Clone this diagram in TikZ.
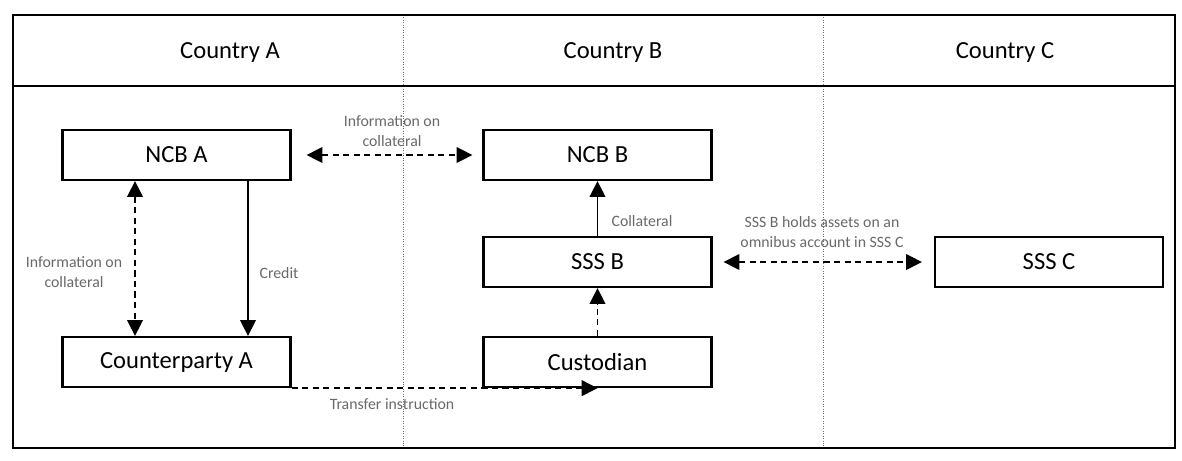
\documentclass[tikz,border=0pt]{standalone}
\usepackage{fontspec}
\setmainfont{Carlito}
\usetikzlibrary{arrows.meta}
\definecolor{label1}{RGB}{105, 105, 105}
\definecolor{divider1}{RGB}{110, 110, 110}
\tikzset{
  box/.style={draw, line width=1.3pt, minimum width=4.56cm, minimum height=1cm, font=\fontsize{14}{16}\selectfont},
  lbl/.style={text=label1, font=\fontsize{9}{11.4}\selectfont, align=center},
  flow/.style={line width=0.8pt, -{Triangle[length=9pt,width=9pt]}},
  both/.style={line width=0.8pt, {Triangle[length=9pt,width=9pt]}-{Triangle[length=9pt,width=9pt]}},
  dash1/.style={dash pattern=on 3.5pt off 2.5pt}
}
\begin{document}
\begin{tikzpicture}[x=0.02cm, y=-0.02cm]
  \useasboundingbox (0,0) rectangle (1182,460);
  \draw[divider1, densely dotted, line width=0.4pt] (403,15) -- (403,448);
  \draw[divider1, densely dotted, line width=0.4pt] (823,15) -- (823,448);
  \draw[line width=1.6pt] (13,15) rectangle (1175,448);
  \draw[line width=1.6pt] (13,86) -- (1175,86);
  \node[font=\fontsize{14}{16}\selectfont] (ca) at (230,52) {Country A};
  \node[font=\fontsize{14}{16}\selectfont] (cb) at (613,52) {Country B};
  \node[font=\fontsize{14}{16}\selectfont] (cc) at (1005,52) {Country C};
  \node[box] (ncba) at (176.5,155) {NCB A};
  \node[box] (cpa) at (176.5,362) {Counterparty A};
  \node[box] (ncbb) at (597.5,155) {NCB B};
  \node[box] (sssb) at (597.5,262) {SSS B};
  \node[box] (cus) at (597.5,362) {Custodian};
  \node[box] (sssc) at (1049,262) {SSS C};
  \node[lbl] (l1) at (392,131) {Information on\\collateral};
  \node[lbl] (l2) at (74,272) {Information on\\collateral};
  \node[lbl] (l3) at (279,273) {Credit};
  \node[lbl] (l4) at (642,221) {Collateral};
  \node[lbl] (l5) at (822,232) {SSS B holds assets on an\\omnibus account in SSS C};
  \node[lbl] (l6) at (392,404) {Transfer instruction};
  \draw[both, dash1, shorten <=0.3cm, shorten >=0.2cm] (ncba) -- (ncbb);
  \draw[both, dash1] ([xshift=-0.83cm]ncba.south) -- ([xshift=-0.83cm]cpa.north);
  \draw[flow] ([xshift=1.43cm]ncba.south) -- ([xshift=1.43cm]cpa.north);
  \draw[flow] (sssb) -- (ncbb);
  \draw[flow, dash1] (cus) -- (sssb);
  \draw[both, dash1, shorten <=0.22cm, shorten >=0.24cm] (sssb) -- (sssc);
  \draw[flow, dash1] (cpa.south east) -- (cus.south);
\end{tikzpicture}
\end{document}
